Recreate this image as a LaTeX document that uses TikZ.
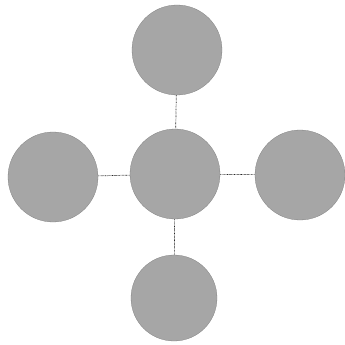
\documentclass[tikz,border=0pt]{standalone}
\usepackage{tikz}
\usetikzlibrary{positioning}

\begin{document}
\begin{tikzpicture}[x=0.5mm, y=-0.5mm,
      ball/.style={circle, draw=black!50, fill=black!35, minimum size=45mm, inner sep=0pt},
      link/.style={densely dotted, line width=1pt, draw=black!85}]
    \useasboundingbox (0,0) rectangle (345,345);
    \node[ball] (hub) at (175,174) {};
    \node[ball] (top) at (177,50) {};
    \node[ball] (left) at (53,177) {};
    \node[ball] (right) at (300,175) {};
    \node[ball, minimum size=43mm] (bottom) at (174,298) {};
    \draw[link] (top) -- (hub);
    \draw[link] (left) -- (hub);
    \draw[link] (hub) -- (right);
    \draw[link] (hub) -- (bottom);
  \end{tikzpicture}
\end{document}
